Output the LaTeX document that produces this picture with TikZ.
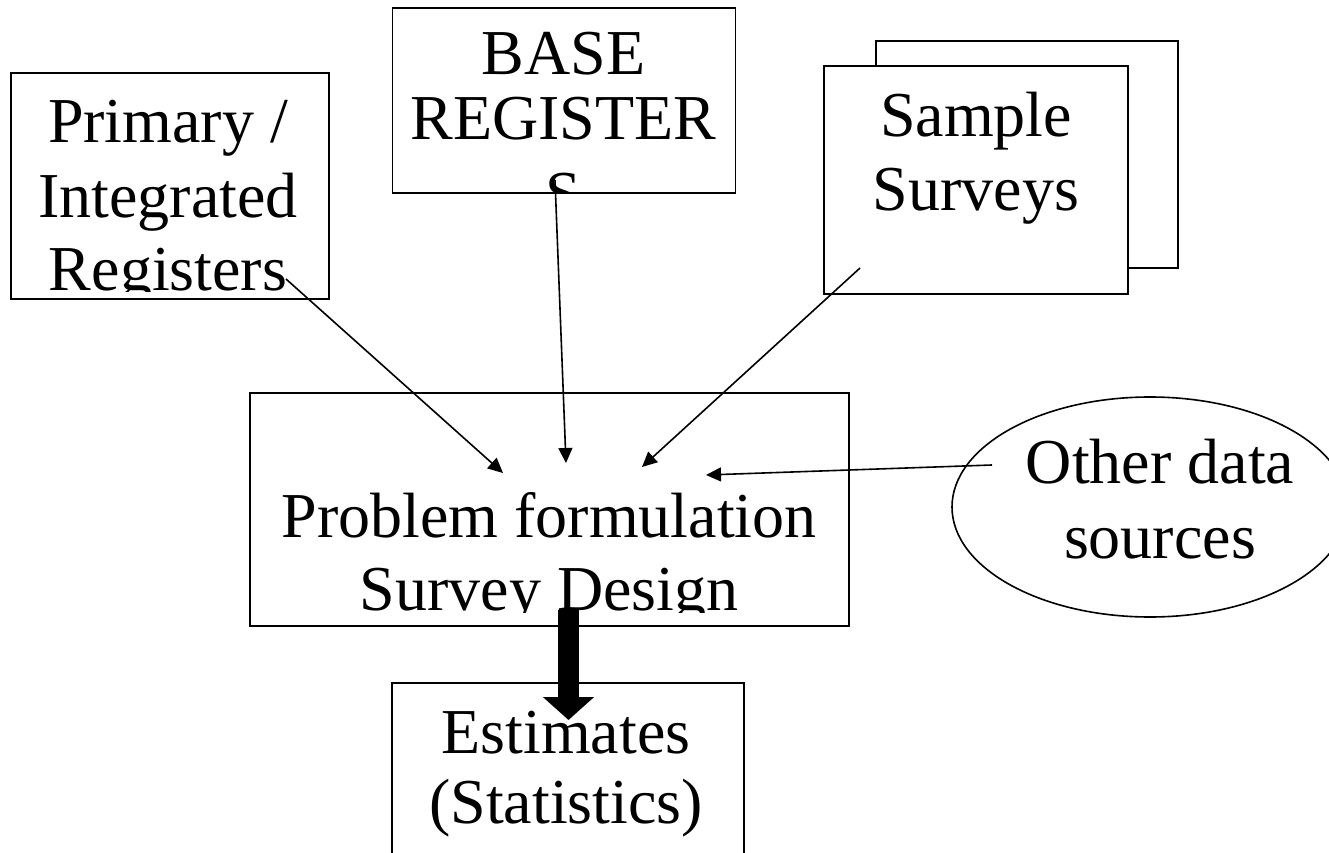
\documentclass[tikz,border=0pt]{standalone}
\usepackage{fontspec}
\setmainfont{Liberation Serif}
\usetikzlibrary{arrows.meta,shapes.geometric}
\tikzset{
  box/.style={draw, line width=1.6pt, rectangle, inner sep=0pt},
  txt/.style={anchor=base, inner sep=0pt, font=\fontsize{64}{74}\selectfont},
  thin/.style={line width=1.6pt, -{Triangle[length=15pt 0 0, width=14pt 0 0]}},
  thick/.style={line width=21pt, -{Triangle[length=23pt 0 0, width=50pt 0 0]}}
}
\begin{document}
\begin{tikzpicture}[x=1pt,y=-1pt]
\useasboundingbox (0,0) rectangle (1329,853);
\clip (0,0) rectangle (1329,853);
\fill[white] (0,0) rectangle (1329,853);
% boxes
\node[box, minimum width=318pt, minimum height=226pt] (prim) at (170,186) {};
\node[box, minimum width=343pt, minimum height=185pt] (base) at (564,100.5) {};
\node[box, minimum width=302pt, minimum height=227pt] (sampb) at (1027,154.5) {};
\node[box, fill=white, minimum width=304pt, minimum height=228pt] (samp) at (976,180) {};
\node[box, minimum width=599pt, minimum height=233pt] (prob) at (549.5,509.5) {};
\node[box, minimum width=352pt, minimum height=240pt] (est) at (568,803) {};
\node[draw, line width=1.6pt, ellipse, inner sep=0pt, minimum width=396pt, minimum height=220pt] (other) at (1150,507) {};
% texts
\begin{scope}
\clip (11,73) rectangle (329,291);
\node[txt] (p1) at (168,143) {Primary /};
\node[txt] (p2) at (168,217) {Integrated};
\node[txt] (p3) at (168,290.5) {Registers};
\end{scope}
\begin{scope}
\clip (392,8) rectangle (736,193);
\node[txt] (b1) at (563.5,75) {BASE};
\node[txt] (b2) at (563.5,140) {REGISTER};
\node[txt] (b3) at (563.5,215) {S};
\end{scope}
\node[txt] (s1) at (976,137) {Sample};
\node[txt] (s2) at (976,210) {Surveys};
\begin{scope}
\clip (250,393) rectangle (849,612);
\node[txt] (f1) at (549,537) {Problem formulation};
\node[txt] (f2) at (549,610) {Survey Design};
\end{scope}
\node[txt] (e1) at (566,753) {Estimates};
\node[txt] (e2) at (566,823) {(Statistics)};
\node[txt] (o1) at (1160,483) {Other data};
\node[txt] (o2) at (1160,558) {sources};
% connectors
\coordinate (a1s) at (286,279);
\coordinate (a1e) at (503,473);
\coordinate (a2s) at (555,180);
\coordinate (a2e) at (566,463);
\coordinate (a3s) at (860,268);
\coordinate (a3e) at (642,467);
\coordinate (a4s) at (992,465);
\coordinate (a4e) at (706,475);
\coordinate (a5s) at (568.5,610);
\coordinate (a5e) at (568.5,720);
\draw[thin] (a1s) -- (a1e);
\draw[thin] (a2s) -- (a2e);
\draw[thin] (a3s) -- (a3e);
\draw[thin] (a4s) -- (a4e);
\draw[thick] (a5s) -- (a5e);
\end{tikzpicture}
\end{document}
